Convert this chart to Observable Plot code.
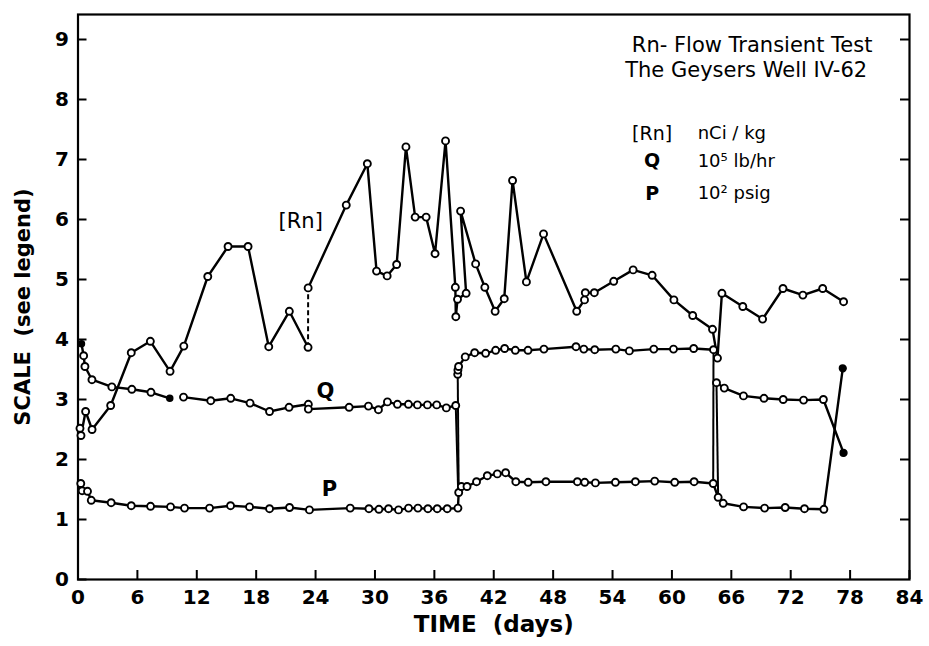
<!DOCTYPE html>
<html><head><meta charset="utf-8">
<script src="https://cdn.jsdelivr.net/npm/d3@7"></script>
<script src="https://cdn.jsdelivr.net/npm/@observablehq/plot@0.6"></script>
<style>body{margin:0;background:#fff}#chart{position:absolute;left:0;top:0}</style>
</head><body><div id="chart"></div>
<script>
// ---- tick labels ----
const xTicks = [0,6,12,18,24,30,36,42,48,54,60,66,72,78,84];
const yTicks = [0,1,2,3,4,5,6,7,8,9];

// ---- [Rn] (nCi/kg), two solid pieces joined by a dashed step at day ~23 ----
const rnDayA = [0.2,0.3,0.77,1.42,3.3,5.38,7.31,9.3,10.69,13.11,15.16,17.18,19.27,21.35,23.24];
const rnValA = [2.52,2.40,2.80,2.50,2.90,3.78,3.97,3.47,3.89,5.05,5.55,5.55,3.88,4.47,3.87];
const rnDayB = [23.25,27.10,29.23,30.16,31.23,32.19,33.13,34.06,35.17,36.07,37.13,38.12,38.17,38.34,39.21,38.65,40.17,41.10,42.14,43.06,43.9,45.3,47.03,50.38,51.17,51.25,52.16,54.12,56.08,58.0,60.2,62.1,64.1,64.6,65.05,67.16,69.16,71.22,73.23,75.23,77.34];
const rnValB = [4.86,6.24,6.93,5.14,5.06,5.25,7.21,6.04,6.04,5.43,7.31,4.87,4.38,4.67,4.77,6.14,5.26,4.87,4.47,4.68,6.65,4.96,5.76,4.47,4.66,4.78,4.78,4.97,5.16,5.07,4.66,4.40,4.17,3.69,4.77,4.55,4.34,4.85,4.74,4.85,4.63];

// ---- Q (10^5 lb/hr) ----
const qDayA = [0.35,0.57,0.70,1.41,3.42,5.44,7.37,9.27];
const qValA = [3.93,3.73,3.55,3.33,3.21,3.17,3.12,3.02];
const qDayB = [10.66,13.41,15.43,17.38,19.35,21.32,23.27,23.27,27.39,29.34,30.35,31.26,32.27,33.38,34.29,35.3,36.24,37.21,38.16];
const qValB = [3.04,2.98,3.02,2.94,2.80,2.87,2.92,2.84,2.87,2.89,2.83,2.96,2.92,2.92,2.91,2.91,2.91,2.86,2.90];
const qDayC = [38.36,38.38,38.45,39.12,40.07,41.18,42.19,43.1,44.18,45.46,47.07,50.31,51.1,52.2,54.33,55.7,58.17,60.16,62.2,64.2];
const qValC = [3.42,3.49,3.55,3.71,3.78,3.77,3.82,3.85,3.82,3.82,3.84,3.88,3.84,3.83,3.84,3.81,3.84,3.84,3.85,3.83];
const qDayD = [64.5,65.29,67.23,69.3,71.24,73.3,75.3,77.34];
const qValD = [3.28,3.19,3.06,3.02,3.00,2.99,3.00,2.11];

// ---- P (10^2 psig) ----
const pDay = [0.28,0.42,0.96,1.34,3.35,5.38,7.33,9.35,10.76,13.29,15.41,17.33,19.35,21.37,23.38,27.5,29.39,30.4,31.37,32.38,33.39,34.34,35.35,36.29,37.3,38.38,
  38.46,38.73,39.3,40.26,41.35,42.36,43.2,44.23,45.48,47.27,50.45,51.19,52.27,54.29,56.31,58.26,60.28,62.24,64.17,
  64.67,65.18,67.24,69.36,71.44,73.39,75.35,77.26];
const pVal = [1.60,1.48,1.47,1.32,1.28,1.23,1.22,1.21,1.19,1.19,1.23,1.21,1.18,1.20,1.16,1.19,1.18,1.17,1.18,1.16,1.19,1.19,1.18,1.18,1.18,1.19,
  1.45,1.55,1.55,1.63,1.73,1.76,1.78,1.63,1.62,1.63,1.63,1.62,1.61,1.62,1.63,1.64,1.62,1.63,1.60,
  1.37,1.27,1.21,1.19,1.20,1.18,1.17,3.52];

// ---- connector strokes at the flow changes: [day1, val1, day2, val2] ----
const connectors = [[38.16,2.90,38.40,1.50],[38.36,3.42,38.46,1.45],[64.2,3.83,64.17,1.60],[64.5,3.28,64.67,1.37]];
const dashedStep = [[23.24,3.87,23.25,4.86]];

// filled markers: [series piece, index]
const filled = [["qA",0],["qA",7],["qD",7],["p",52]];

const pieces = {rnA:[rnDayA,rnValA], rnB:[rnDayB,rnValB], qA:[qDayA,qValA], qB:[qDayB,qValB], qC:[qDayC,qValC], qD:[qDayD,qValD], p:[pDay,pVal]};
const rows = [];
for (const [k,[ds,vs]] of Object.entries(pieces)) ds.forEach((d,i)=>rows.push({piece:k, i, day:d, val:vs[i], filled: filled.some(f=>f[0]===k&&f[1]===i)}));
const links = connectors.map(c=>({x1:c[0],y1:c[1],x2:c[2],y2:c[3]}));
const dlinks = dashedStep.map(c=>({x1:c[0],y1:c[1],x2:c[2],y2:c[3]}));

const W=929,H=646,ML=77.5,MR=20,MT=14,MB=67;
const FW=W-ML-MR, FH=H-MT-MB;
const F="DejaVu Sans";

const chart = Plot.plot({
  width:W, height:H, marginLeft:ML, marginRight:MR, marginTop:MT, marginBottom:MB,
  style:{fontFamily:F, fontSize:"20px", fontWeight:"bold", background:"white", color:"black"},
  x:{domain:[0,84], ticks:xTicks, tickSize:0, tickPadding:10, label:null, tickFormat:d=>String(d)},
  y:{domain:[0,FH/60], ticks:yTicks, tickSize:0, tickPadding:9, label:null, tickFormat:d=>String(d)},
  marks:[
    Plot.frame({stroke:"black", strokeWidth:2.2}),
    Plot.tickY(yTicks,{y:d=>d, insetRight:FW-9, stroke:"black", strokeWidth:2}),
    Plot.tickY(yTicks.slice(1),{y:d=>d, insetLeft:FW-9, stroke:"black", strokeWidth:2}),
    Plot.tickX(xTicks,{x:d=>d, insetTop:FH-9, stroke:"black", strokeWidth:2}),
    Plot.link(links,{x1:"x1",y1:"y1",x2:"x2",y2:"y2", stroke:"black", strokeWidth:2}),
    Plot.link(dlinks,{x1:"x1",y1:"y1",x2:"x2",y2:"y2", stroke:"black", strokeWidth:2, strokeDasharray:"5,3"}),
    Plot.line(rows,{x:"day", y:"val", z:"piece", stroke:"black", strokeWidth:2.4, curve:"linear"}),
    Plot.dot(rows.filter(d=>!d.filled),{x:"day", y:"val", r:3.5, fill:"white", stroke:"black", strokeWidth:1.9}),
    Plot.dot(rows.filter(d=>d.filled),{x:"day", y:"val", r:d=>d.piece==="qA"?3.8:4.8, fill:"black", stroke:"black"}),
    Plot.text(["[Rn]"],{x:22.5, y:5.97, fontSize:21, fontWeight:"normal"}),
    Plot.text(["Q"],{x:25.0, y:3.13, fontSize:21, fontWeight:"bold"}),
    Plot.text(["P"],{x:25.4, y:1.50, fontSize:21, fontWeight:"bold"}),
    Plot.text(["Rn- Flow Transient Test"],{x:68.1, y:8.9, fontSize:21, fontWeight:"normal"}),
    Plot.text(["The Geysers Well IV-62"],{x:67.5, y:8.48, fontSize:21, fontWeight:"normal"}),
    Plot.text(["[Rn]"],{x:58.0, y:7.43, fontSize:19, fontWeight:"normal"}),
    Plot.text(["Q"],{x:58.0, y:6.97, fontSize:19, fontWeight:"bold"}),
    Plot.text(["P"],{x:58.0, y:6.43, fontSize:19, fontWeight:"bold"}),
    Plot.text(["nCi / kg"],{x:62.6, y:7.43, textAnchor:"start", fontSize:18, fontWeight:"normal"}),
    Plot.text(["10\u2075 lb/hr"],{x:62.6, y:6.97, textAnchor:"start", fontSize:18, fontWeight:"normal"}),
    Plot.text(["10\u00b2 psig"],{x:62.6, y:6.43, textAnchor:"start", fontSize:18, fontWeight:"normal"}),
    Plot.text(["TIME\u00a0\u00a0(days)"],{frameAnchor:"bottom", dy:52, fontSize:23, fontWeight:"bold"}),
    Plot.text(["SCALE\u00a0\u00a0(see legend)"],{frameAnchor:"left", textAnchor:"middle", dx:-55, dy:10, rotate:-90, fontSize:21, fontWeight:"bold"})
  ]
});
document.getElementById("chart").appendChild(chart);
</script>
</body></html>
